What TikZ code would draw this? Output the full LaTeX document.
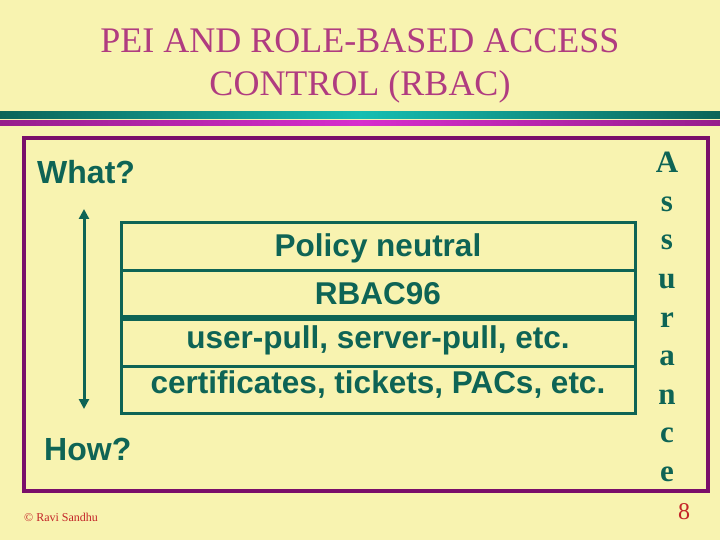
\documentclass[tikz,border=0pt]{standalone}
\usepackage{fontspec}
\setmainfont{Liberation Serif}
\newfontfamily\arialfont{Liberation Sans}
\usetikzlibrary{arrows.meta}
\definecolor{bg}{RGB}{248,243,176}
\definecolor{titlec}{RGB}{176,60,128}
\definecolor{tealtxt}{RGB}{14,100,85}
\definecolor{tealdark}{RGB}{12,100,88}
\definecolor{tealmid}{RGB}{22,190,178}
\definecolor{magdark}{RGB}{150,30,140}
\definecolor{magmid}{RGB}{215,45,205}
\definecolor{framec}{RGB}{122,14,106}
\definecolor{redc}{RGB}{196,36,40}
\tikzset{
  titletext/.style={anchor=base, text=titlec, font=\fontsize{36bp}{40bp}\selectfont, inner sep=0pt},
  sidetext/.style={anchor=base west, text=tealtxt, font=\arialfont\bfseries\fontsize{32bp}{36bp}\selectfont, inner sep=0pt},
  rowtext/.style={anchor=base, text=tealtxt, font=\arialfont\bfseries\fontsize{31.5bp}{36bp}\selectfont, inner sep=0pt},
  lettertext/.style={anchor=base, text=tealtxt, font=\bfseries\fontsize{31bp}{36bp}\selectfont, inner sep=0pt},
  tableline/.style={draw=tealtxt, line width=3bp},
}
\begin{document}
\begin{tikzpicture}[x=1bp,y=-1bp]
\fill[bg] (0,0) rectangle (720,540);
\useasboundingbox (0,0) rectangle (720,540);
% title
\node[titletext] (t1) at (360,53) {PEI AND ROLE-BASED ACCESS};
\node[titletext] (t2) at (360,96) {CONTROL (RBAC)};
% rules
\shade[left color=tealdark, right color=tealdark, middle color=tealmid] (0,112) rectangle (720,119);
\shade[left color=magdark, right color=magdark, middle color=magmid] (0,121) rectangle (720,125.5);
% frame
\draw[framec, line width=4bp] (24,138) rectangle (708,491);
% side labels
\node[sidetext] (what) at (37,184) {What?};
\node[sidetext] (how) at (44,460) {How?};
% arrow
\coordinate (atop) at (84,209);
\coordinate (abot) at (84,409);
\draw[tealtxt, line width=3bp, {Triangle[width=10bp,length=10bp]}-{Triangle[width=10bp,length=10bp]}] (atop) -- (abot);
% table
\draw[tableline] (121,223) rectangle (635.5,413.5);
\draw[tableline] (121,270) -- (635.5,270);
\draw[tableline] (121,366.5) -- (635.5,366.5);
\draw[tealtxt, line width=6bp] (121,318) -- (635.5,318);
\node[rowtext] (r1) at (378,257) {Policy neutral};
\node[rowtext] (r2) at (378,304) {RBAC96};
\node[rowtext] (r3) at (378,348.5) {user-pull, server-pull, etc.};
\node[rowtext] (r4) at (378,393.5) {certificates, tickets, PACs, etc.};
% Assurance
\node[lettertext] (l1) at (667,173) {A};
\node[lettertext] (l2) at (667,211.5) {s};
\node[lettertext] (l3) at (667,250) {s};
\node[lettertext] (l4) at (667,288.5) {u};
\node[lettertext] (l5) at (667,327) {r};
\node[lettertext] (l6) at (667,365.5) {a};
\node[lettertext] (l7) at (667,404) {n};
\node[lettertext] (l8) at (667,442.5) {c};
\node[lettertext] (l9) at (667,481) {e};
% footer
\node[anchor=base west, text=redc, font=\fontsize{12bp}{14bp}\selectfont, inner sep=0pt] (copy) at (24,521) {© Ravi Sandhu};
\node[anchor=base, text=redc, font=\fontsize{24bp}{28bp}\selectfont, inner sep=0pt] (pg) at (684,519) {8};
\end{tikzpicture}
\end{document}
